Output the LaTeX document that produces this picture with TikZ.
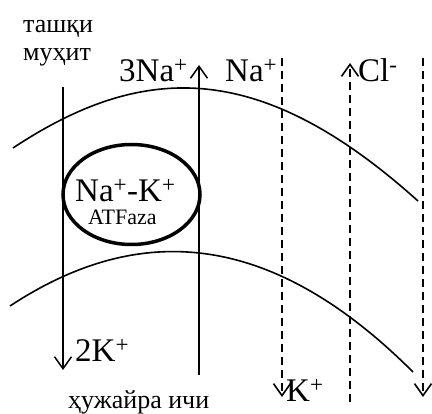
\documentclass[tikz,border=0pt]{standalone}
\usepackage{fontspec}
\setmainfont{Liberation Serif}
\usetikzlibrary{arrows.meta, positioning, shapes.geometric}

\begin{document}
\begin{tikzpicture}[
    x=1pt, y=1pt,
    >={Straight Barb[length=12pt, width=17pt]},
    flow/.style={line width=1.5pt},
    leak/.style={line width=1.6pt, dash pattern=on 8pt off 5pt},
    membrane/.style={line width=1.6pt},
    ion/.style={inner sep=0pt, anchor=base west, font=\fontsize{33}{38}\selectfont},
    caption/.style={inner sep=0pt, anchor=base west, align=left, font=\fontsize{26}{28}\selectfont},
    pumpbox/.style={draw, ellipse, line width=3.5pt, minimum width=137pt, minimum height=100pt}
]
    \useasboundingbox (0,0) rectangle (432,-414);

    % Membrane
    \draw[membrane] (13,-148) .. controls (143,-62) and (260,-59) .. (418,-201);
    \draw[membrane] (10,-306) .. controls (130,-227) and (263,-222) .. (413,-372);

    % Pump
    \node[pumpbox] (pump) at (131.5,-194.5) {};
    \node[ion] (nak) at (75,-202) {Na\textsuperscript{+}-K\textsuperscript{+}};
    \node[caption, font=\fontsize{22}{24}\selectfont] (atf) at (88,-225) {ATFaza};

    % Pump fluxes
    \coordinate (ktop) at (63,-87);
    \coordinate (kbot) at (63,-370);
    \coordinate (nabot) at (199,-375);
    \coordinate (natop) at (199,-65);
    \draw[flow, ->] (ktop) -- (kbot);
    \draw[flow, ->] (nabot) -- (natop);

    % Leak channels
    \coordinate (leaknatop) at (282,-58);
    \coordinate (leaknabot) at (282,-397);
    \coordinate (clbot) at (350,-402);
    \coordinate (cltop) at (350,-63);
    \coordinate (leakktop) at (423,-58);
    \coordinate (leakkbot) at (423,-397);
    \draw[leak, ->] (leaknatop) -- (leaknabot);
    \draw[leak, ->] (clbot) -- (cltop);
    \draw[leak, ->] (leakktop) -- (leakkbot);

    % Ions
    \node[ion] (na3) at (119,-82) {3Na\textsuperscript{+}};
    \node[ion] (na) at (225,-82) {Na\textsuperscript{+}};
    \node[ion] (cl) at (358,-82) {Cl\textsuperscript{-}};
    \node[ion] (k2) at (75,-362) {2K\textsuperscript{+}};
    \node[ion] (k) at (286,-402) {K\textsuperscript{+}};

    % Sides
    \node[caption] (outside) at (23,-61) {ташқи\\муҳит};
    \node[caption] (inside) at (68,-409) {ҳужайра ичи};
\end{tikzpicture}
\end{document}
